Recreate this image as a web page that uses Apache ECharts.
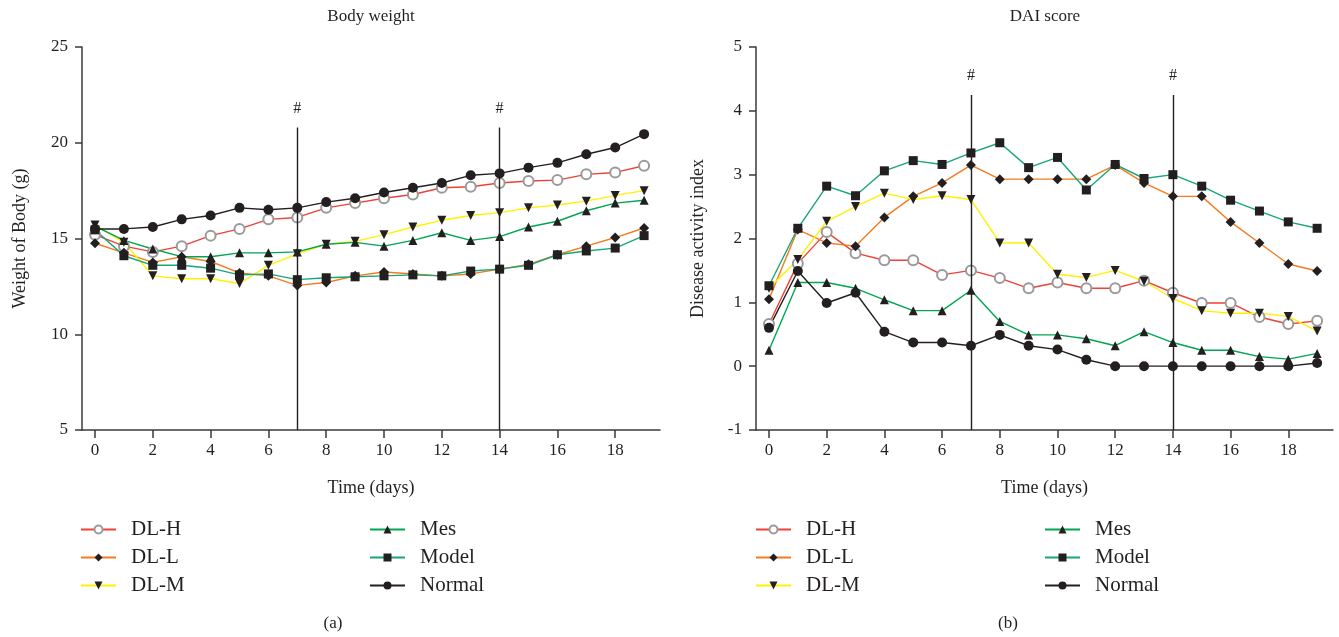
<!DOCTYPE html>
<html>
<head>
<meta charset="utf-8">
<script src="https://cdn.jsdelivr.net/npm/echarts@6/dist/echarts.min.js"></script>
<style>
  html, body { margin: 0; padding: 0; background: #fff; }
  #chart { width: 1339px; height: 637px; }
</style>
</head>
<body>
<div id="chart"></div>
<script>
  // days on the x axis
  var days = [0, 1, 2, 3, 4, 5, 6, 7, 8, 9, 10, 11, 12, 13, 14, 15, 16, 17, 18, 19]
  var dayTicks = [0, 2, 4, 6, 8, 10, 12, 14, 16, 18]

  // (a) body weight, g
  var bwDLH = [15.2, 14.6, 14.3, 14.6, 15.15, 15.5, 16.0, 16.1, 16.6, 16.85, 17.1, 17.3, 17.65, 17.7, 17.9, 18.0, 18.05, 18.35, 18.45, 18.8]
  var bwDLL = [14.75, 14.25, 13.75, 14.05, 13.8, 13.2, 13.05, 12.55, 12.7, 13.05, 13.25, 13.15, 13.05, 13.15, 13.4, 13.65, 14.15, 14.6, 15.05, 15.55]
  var bwDLM = [15.7, 14.8, 13.05, 12.9, 12.9, 12.65, 13.6, 14.2, 14.7, 14.85, 15.2, 15.6, 15.95, 16.2, 16.35, 16.6, 16.75, 16.95, 17.25, 17.5]
  var bwMes = [15.65, 14.9, 14.45, 14.05, 14.05, 14.25, 14.25, 14.3, 14.7, 14.8, 14.6, 14.9, 15.3, 14.9, 15.1, 15.6, 15.9, 16.45, 16.85, 17.0]
  var bwModel = [15.45, 14.1, 13.6, 13.6, 13.45, 13.1, 13.15, 12.85, 12.95, 13.0, 13.05, 13.1, 13.05, 13.3, 13.4, 13.6, 14.15, 14.35, 14.5, 15.15]
  var bwNormal = [15.5, 15.5, 15.6, 16.0, 16.2, 16.6, 16.5, 16.6, 16.9, 17.1, 17.4, 17.65, 17.9, 18.3, 18.4, 18.7, 18.95, 19.4, 19.75, 20.45]

  // (b) DAI score
  var daiDLH = [0.66, 1.61, 2.1, 1.77, 1.66, 1.66, 1.43, 1.5, 1.38, 1.22, 1.31, 1.22, 1.22, 1.34, 1.15, 0.99, 0.99, 0.77, 0.66, 0.71]
  var daiDLL = [1.05, 2.14, 1.93, 1.88, 2.33, 2.66, 2.87, 3.15, 2.93, 2.93, 2.93, 2.93, 3.15, 2.87, 2.66, 2.66, 2.26, 1.93, 1.6, 1.49]
  var daiDLM = [1.22, 1.67, 2.27, 2.5, 2.71, 2.61, 2.67, 2.61, 1.93, 1.93, 1.44, 1.39, 1.5, 1.33, 1.06, 0.87, 0.83, 0.83, 0.78, 0.55]
  var daiMes = [0.25, 1.31, 1.31, 1.22, 1.04, 0.87, 0.87, 1.19, 0.7, 0.49, 0.49, 0.43, 0.32, 0.54, 0.37, 0.25, 0.25, 0.15, 0.11, 0.2]
  var daiModel = [1.26, 2.16, 2.82, 2.67, 3.06, 3.22, 3.16, 3.34, 3.5, 3.11, 3.27, 2.76, 3.16, 2.94, 3.0, 2.82, 2.6, 2.43, 2.26, 2.16]
  var daiNormal = [0.6, 1.49, 0.99, 1.15, 0.54, 0.37, 0.37, 0.32, 0.49, 0.32, 0.26, 0.1, 0, 0, 0, 0, 0, 0, 0, 0.05]

  // marked days (#) and where their lines stop
  var markDays = [7, 14]
  var bwMarkTop = 20.8
  var daiMarkTop = 4.25

  var names = ['DL-H', 'DL-L', 'DL-M', 'Mes', 'Model', 'Normal']
  var ink = '#231f20'
  var font = 'Liberation Serif'

  var styles = {
    'DL-H': {line: '#ef4136', symbol: 'emptyCircle', color: '#9a9a9a', size: 10, rotate: 0},
    'DL-L': {line: '#f47b20', symbol: 'diamond', color: ink, size: 10, rotate: 0},
    'DL-M': {line: '#fff200', symbol: 'triangle', color: ink, size: 9, rotate: 180},
    'Mes': {line: '#00a651', symbol: 'triangle', color: ink, size: 9, rotate: 0},
    'Model': {line: '#19a57a', symbol: 'rect', color: ink, size: 9, rotate: 0},
    'Normal': {line: ink, symbol: 'circle', color: ink, size: 10, rotate: 0}
  }

  function pairs(vals) {
    return days.map(function (d, i) { return [d, vals[i]] })
  }

  function makeSeries(name, vals, idx) {
    var s = styles[name]
    return {
      name: name,
      type: 'line',
      xAxisIndex: idx,
      yAxisIndex: idx,
      data: pairs(vals),
      symbol: s.symbol,
      symbolSize: s.size,
      symbolRotate: s.rotate,
      lineStyle: {color: s.line, width: 1.4},
      itemStyle: {color: s.color, borderColor: s.color, borderWidth: s.symbol === 'emptyCircle' ? 1.2 : 0},
      silent: true,
      animation: false
    }
  }

  function markSeries(idx, bottom, top) {
    return {
      type: 'line',
      xAxisIndex: idx,
      yAxisIndex: idx,
      data: [],
      silent: true,
      animation: false,
      markLine: {
        symbol: 'none',
        silent: true,
        animation: false,
        lineStyle: {color: ink, width: 1.4, type: 'solid'},
        label: {show: true, position: 'end', formatter: '#', color: ink, fontSize: 16, fontFamily: font, distance: 11},
        data: markDays.map(function (d) {
          return [{coord: [d, bottom]}, {coord: [d, top]}]
        })
      }
    }
  }

  function xAxisOpt(idx) {
    return {
      type: 'value',
      gridIndex: idx,
      min: -0.45,
      max: 19.55,
      name: 'Time (days)',
      nameLocation: 'middle',
      nameGap: 49,
      nameTextStyle: {color: ink, fontSize: 18, fontFamily: font},
      axisLine: {onZero: false, lineStyle: {color: '#3a3a3a', width: 1.5}},
      axisTick: {customValues: dayTicks, length: 8, lineStyle: {color: '#3a3a3a', width: 1.5}},
      axisLabel: {customValues: dayTicks, color: ink, fontSize: 17, fontFamily: font, margin: 12},
      splitLine: {show: false}
    }
  }

  function yAxisOpt(idx, name, min, max, step, gap) {
    return {
      type: 'value',
      gridIndex: idx,
      min: min,
      max: max,
      interval: step,
      name: name,
      nameLocation: 'middle',
      nameRotate: 90,
      nameGap: gap,
      nameTextStyle: {color: ink, fontSize: 18, fontFamily: font},
      axisLine: {show: true, onZero: false, lineStyle: {color: '#3a3a3a', width: 1.5}},
      axisTick: {show: true, length: 7, lineStyle: {color: '#3a3a3a', width: 1.5}},
      axisLabel: {color: ink, fontSize: 17, fontFamily: font, margin: 14},
      splitLine: {show: false}
    }
  }

  function legendOpt(left, data) {
    return {
      orient: 'vertical',
      left: left,
      top: 519,
      padding: 0,
      data: data,
      itemWidth: 35,
      itemHeight: 10,
      itemGap: 7,
      selectedMode: false,
      textStyle: {color: ink, fontSize: 21, fontFamily: font, padding: [0, 0, 0, 10]}
    }
  }

  var series = []
  var bwSets = [bwDLH, bwDLL, bwDLM, bwMes, bwModel, bwNormal]
  var daiSets = [daiDLH, daiDLL, daiDLM, daiMes, daiModel, daiNormal]
  series.push(markSeries(0, 5, bwMarkTop))
  series.push(markSeries(1, -1, daiMarkTop))
  names.forEach(function (n, i) {
    series.push(makeSeries(n, bwSets[i], 0))
    series.push(makeSeries(n, daiSets[i], 1))
  })

  var chart = echarts.init(document.getElementById('chart'))
  chart.setOption({
    animation: false,
    textStyle: {fontFamily: font},
    grid: [
      {left: 82, top: 47, width: 578, height: 383},
      {left: 756, top: 47, width: 577, height: 383}
    ],
    xAxis: [xAxisOpt(0), xAxisOpt(1)],
    yAxis: [
      yAxisOpt(0, 'Weight of Body (g)', 5, 25, 5, 53),
      yAxisOpt(1, 'Disease activity index', -1, 5, 1, 49)
    ],
    legend: [
      legendOpt(80, ['DL-H', 'DL-L', 'DL-M']),
      legendOpt(369, ['Mes', 'Model', 'Normal']),
      legendOpt(755, ['DL-H', 'DL-L', 'DL-M']),
      legendOpt(1044, ['Mes', 'Model', 'Normal'])
    ],
    graphic: [
      {type: 'text', x: 371, y: 8, style: {text: 'Body weight', fill: ink, font: '17px ' + font, textAlign: 'center'}},
      {type: 'text', x: 1045, y: 8, style: {text: 'DAI score', fill: ink, font: '17px ' + font, textAlign: 'center'}},
      {type: 'text', x: 333, y: 615, style: {text: '(a)', fill: ink, font: '17px ' + font, textAlign: 'center'}},
      {type: 'text', x: 1008, y: 615, style: {text: '(b)', fill: ink, font: '17px ' + font, textAlign: 'center'}}
    ],
    series: series
  })
</script>
</body>
</html>
